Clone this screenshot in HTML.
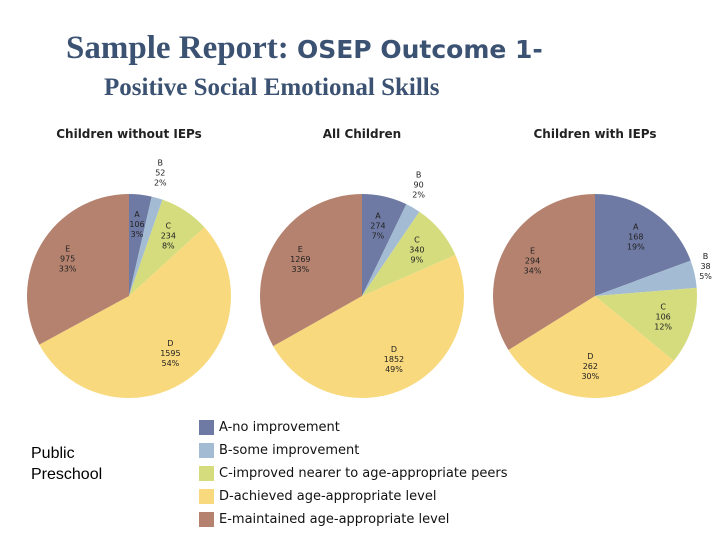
<!DOCTYPE html>
<html><head><meta charset="utf-8"><style>
body{margin:0;width:720px;height:540px;background:#fff;overflow:hidden;position:relative;font-family:"Liberation Sans",sans-serif}
.t{position:absolute;color:#3b5272;font-family:"Liberation Serif",serif;font-weight:bold}
.leg{position:absolute;left:199px;font-size:13px;color:#111;font-family:"DejaVu Sans",sans-serif}
.leg span{display:inline-block;width:15px;height:15px;vertical-align:middle;margin-right:5px}
</style></head><body>
<div class="t" style="left:66px;top:30px;font-size:33px">Sample Report: <span style="font-size:25px;font-family:'DejaVu Sans',sans-serif">OSEP Outcome 1-</span></div>
<div class="t" style="left:104px;top:74px;font-size:25px">Positive Social Emotional Skills</div>
<svg id="c" width="720" height="540" style="position:absolute;left:0;top:0"></svg>
<div style="position:absolute;left:31px;top:443px;font-size:16px;line-height:21px;color:#000">Public<br>Preschool</div>
<div class="leg" style="top:420px"><span style="background:#6e7aa3"></span>A-no improvement</div>
<div class="leg" style="top:443px"><span style="background:#a3bcd3"></span>B-some improvement</div>
<div class="leg" style="top:466px"><span style="background:#d4dc7e"></span>C-improved nearer to age-appropriate peers</div>
<div class="leg" style="top:489px"><span style="background:#f9d97d"></span>D-achieved age-appropriate level</div>
<div class="leg" style="top:512px"><span style="background:#b5826f"></span>E-maintained age-appropriate level</div>
<script>
const cats=["A","B","C","D","E"];
const colors=["#6e7aa3","#a3bcd3","#d4dc7e","#f9d97d","#b5826f"];
const titles=["Children without IEPs","All Children","Children with IEPs"];
const withoutVals=[106,52,234,1595,975];
const withoutPct=["3%","2%","8%","54%","33%"];
const allVals=[274,90,340,1852,1269];
const allPct=["7%","2%","9%","49%","33%"];
const withVals=[168,38,106,262,294];
const withPct=["19%","5%","12%","30%","34%"];
const svg=document.getElementById('c');const NS="http://www.w3.org/2000/svg";
const pies=[{cx:129,cy:296,v:withoutVals,p:withoutPct},{cx:362,cy:296,v:allVals,p:allPct},{cx:595,cy:296,v:withVals,p:withPct}];
const R=102;
function txt(x,y,s,size,w,name){const t=document.createElementNS(NS,'text');t.setAttribute('x',x);t.setAttribute('y',y);t.setAttribute('text-anchor','middle');t.setAttribute('font-size',size);t.setAttribute('font-family','DejaVu Sans, sans-serif');if(w)t.setAttribute('font-weight',w);t.setAttribute('fill','#222');t.textContent=s;


svg.appendChild(t);}
pies.forEach((pc,pi)=>{
 txt(pc.cx,138,titles[pi],12,'bold','pie-title');
 const tot=pc.v.reduce((a,b)=>a+b,0);let a0=0;
 pc.v.forEach((v,i)=>{const a1=a0+v/tot*2*Math.PI;
  const x0=pc.cx+R*Math.sin(a0),y0=pc.cy-R*Math.cos(a0),x1=pc.cx+R*Math.sin(a1),y1=pc.cy-R*Math.cos(a1);
  const p=document.createElementNS(NS,'path');
  p.setAttribute('d',`M${pc.cx},${pc.cy}L${x0},${y0}A${R},${R} 0 ${a1-a0>Math.PI?1:0} 1 ${x1},${y1}Z`);
  p.setAttribute('fill',colors[i]);
  
  
  svg.appendChild(p);
  const am=(a0+a1)/2;const outside=i===1;const rr=outside?R*1.11:R*0.7;
  const lx=pc.cx+rr*Math.sin(am);
  const ly=pc.cy-rr*Math.cos(am)-(outside?10+12*Math.cos(am):8);
  txt(lx,ly,cats[i],8,null,'slice-label');txt(lx,ly+10,String(v),8,null,'slice-value');txt(lx,ly+20,pc.p[i],8,null,'slice-percent');
  a0=a1;});
});
</script>
</body></html>
